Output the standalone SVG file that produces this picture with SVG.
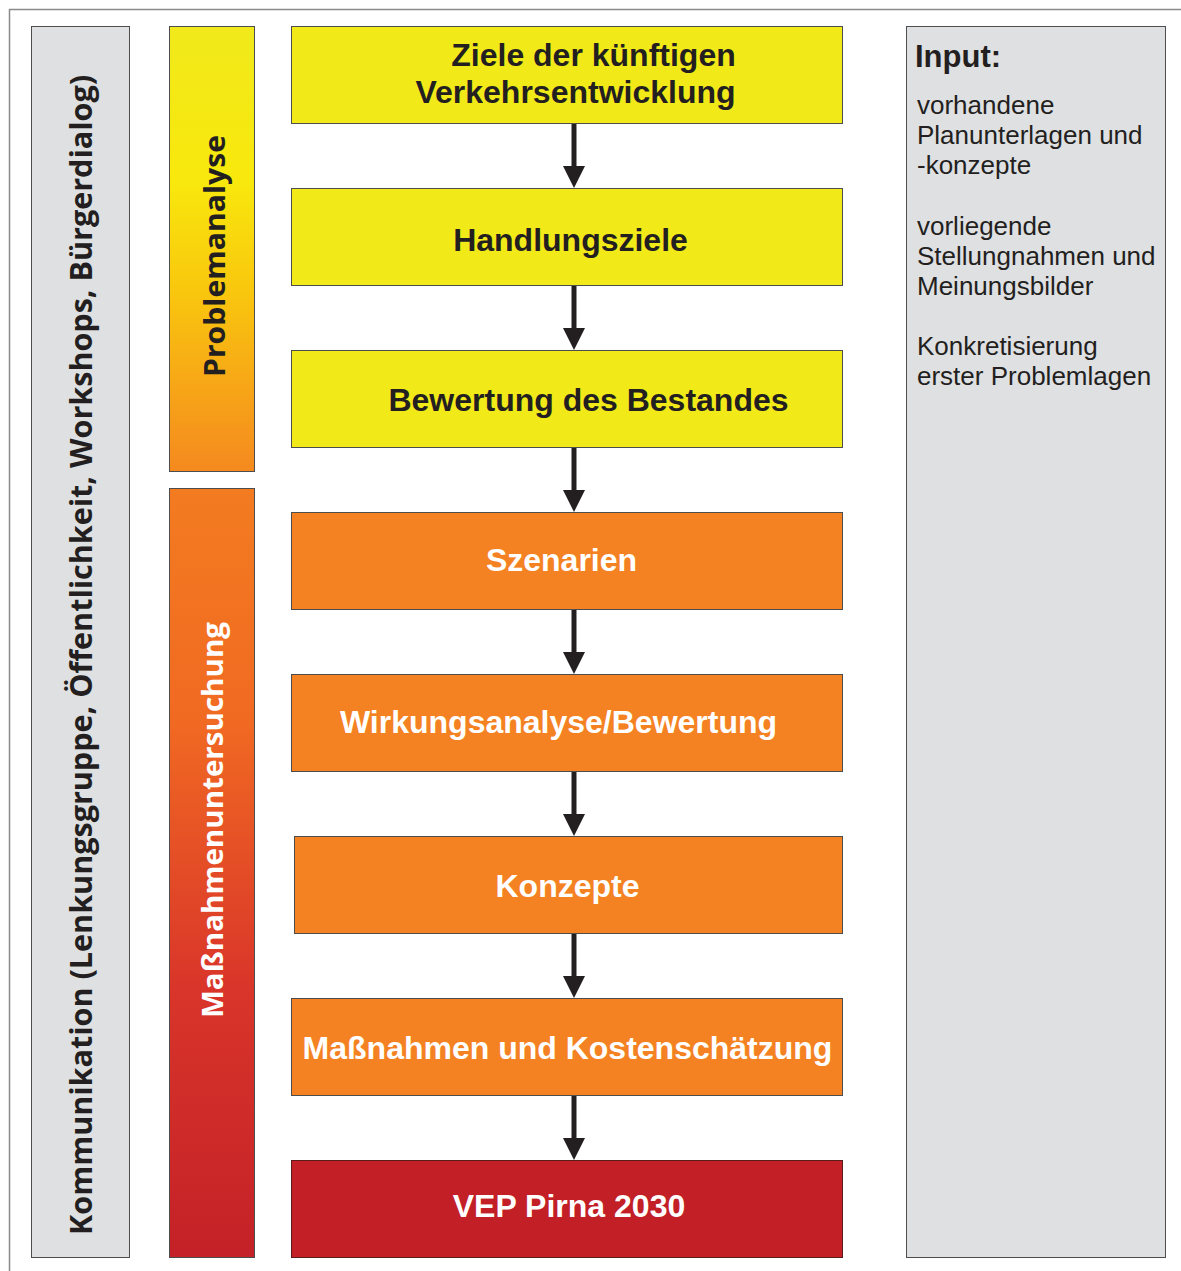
<svg xmlns="http://www.w3.org/2000/svg" width="1181" height="1271" viewBox="0 0 1181 1271">
<defs>
<linearGradient id="gProb" x1="0" y1="0" x2="0" y2="1">
<stop offset="0" stop-color="#f1e91b"/>
<stop offset="0.35" stop-color="#f8e80c"/>
<stop offset="0.6" stop-color="#f9c60e"/>
<stop offset="1" stop-color="#f5891f"/>
</linearGradient>
<linearGradient id="gMass" x1="0" y1="0" x2="0" y2="1">
<stop offset="0" stop-color="#f37b20"/>
<stop offset="0.3" stop-color="#f16a22"/>
<stop offset="0.65" stop-color="#d9352a"/>
<stop offset="1" stop-color="#c42128"/>
</linearGradient>
<marker id="ah" markerUnits="userSpaceOnUse" markerWidth="24" markerHeight="24" viewBox="0 0 24 24" refX="0" refY="12" orient="auto">
<path d="M0,1 L22,12 L0,23 Z" fill="#231f20"/>
</marker>
</defs>
<style>
.box{stroke:#4d4d4d;stroke-width:1}
.yel{fill:#f2e918}
.org{fill:#f58222}
.red{fill:#c21f27;stroke:#5a1c1c}
.gray{fill:#dfe0e2;stroke:#4d4d4d;stroke-width:1}
.nt{font-family:"Liberation Sans",Arial,sans-serif;font-weight:bold;font-size:32px;text-anchor:middle}
.dk{fill:#231f20}
.wt{fill:#ffffff}
.side{font-family:"Open Sans","DejaVu Sans",sans-serif;font-weight:bold;text-anchor:middle}
.inp{font-family:"Liberation Sans",Arial,sans-serif;font-size:26px;fill:#231f20}
.conn line{stroke:#231f20;stroke-width:5;marker-end:url(#ah)}
</style>
<rect x="9.5" y="9.5" width="1200" height="1300" fill="#ffffff" stroke="#8a8a8a" stroke-width="1.5"/>

<g id="kommunikation">
<rect class="gray" x="31.5" y="26.5" width="98" height="1231"/>
<text class="side dk" font-size="31" transform="translate(92,655) rotate(-90)" textLength="1160" lengthAdjust="spacingAndGlyphs">Kommunikation (Lenkungsgruppe, Öffentlichkeit, Workshops, Bürgerdialog)</text>
</g>

<g id="problemanalyse">
<rect class="box" x="169.5" y="26.5" width="85" height="445" fill="url(#gProb)"/>
<text class="side dk" font-size="29" transform="translate(225,256) rotate(-90)" textLength="242" lengthAdjust="spacingAndGlyphs">Problemanalyse</text>
</g>

<g id="massnahmenuntersuchung">
<rect class="box" x="169.5" y="488.5" width="85" height="769" fill="url(#gMass)"/>
<text class="side wt" font-size="29" transform="translate(223,820) rotate(-90)" textLength="396" lengthAdjust="spacingAndGlyphs">Maßnahmenuntersuchung</text>
</g>

<g id="n1">
<rect class="box yel" x="291.5" y="26.5" width="551" height="97"/>
<text class="nt dk" x="593.5" y="66">Ziele der künftigen</text>
<text class="nt dk" x="575.5" y="103">Verkehrsentwicklung</text>
</g>
<g id="n2">
<rect class="box yel" x="291.5" y="188.5" width="551" height="97"/>
<text class="nt dk" x="570.5" y="251">Handlungsziele</text>
</g>
<g id="n3">
<rect class="box yel" x="291.5" y="350.5" width="551" height="97"/>
<text class="nt dk" x="588.5" y="411">Bewertung des Bestandes</text>
</g>
<g id="n4">
<rect class="box org" x="291.5" y="512.5" width="551" height="97"/>
<text class="nt wt" x="561.5" y="571">Szenarien</text>
</g>
<g id="n5">
<rect class="box org" x="291.5" y="674.5" width="551" height="97"/>
<text class="nt wt" x="558.5" y="733">Wirkungsanalyse/Bewertung</text>
</g>
<g id="n6">
<rect class="box org" x="294.5" y="836.5" width="548" height="97"/>
<text class="nt wt" x="567.5" y="897">Konzepte</text>
</g>
<g id="n7">
<rect class="box org" x="291.5" y="998.5" width="551" height="97"/>
<text class="nt wt" x="567.5" y="1059">Maßnahmen und Kostenschätzung</text>
</g>
<g id="n8">
<rect class="box red" x="291.5" y="1160.5" width="551" height="97"/>
<text class="nt wt" x="569" y="1217">VEP Pirna 2030</text>
</g>

<g id="input">
<rect class="gray" x="906.5" y="26.5" width="259" height="1231"/>
<text x="915" y="67" font-family="Liberation Sans,Arial,sans-serif" font-weight="bold" font-size="31" fill="#231f20">Input:</text>
<text class="inp" x="917" y="114">vorhandene</text>
<text class="inp" x="917" y="144">Planunterlagen und</text>
<text class="inp" x="917" y="174">-konzepte</text>
<text class="inp" x="917" y="235">vorliegende</text>
<text class="inp" x="917" y="265">Stellungnahmen und</text>
<text class="inp" x="917" y="295">Meinungsbilder</text>
<text class="inp" x="917" y="355">Konkretisierung</text>
<text class="inp" x="917" y="385">erster Problemlagen</text>
</g>

<g id="connectors" class="conn">
<line x1="574" y1="124" x2="574" y2="166"/>
<line x1="574" y1="286" x2="574" y2="328"/>
<line x1="574" y1="448" x2="574" y2="490"/>
<line x1="574" y1="610" x2="574" y2="652"/>
<line x1="574" y1="772" x2="574" y2="814"/>
<line x1="574" y1="934" x2="574" y2="976"/>
<line x1="574" y1="1096" x2="574" y2="1138"/>
</g>
</svg>
